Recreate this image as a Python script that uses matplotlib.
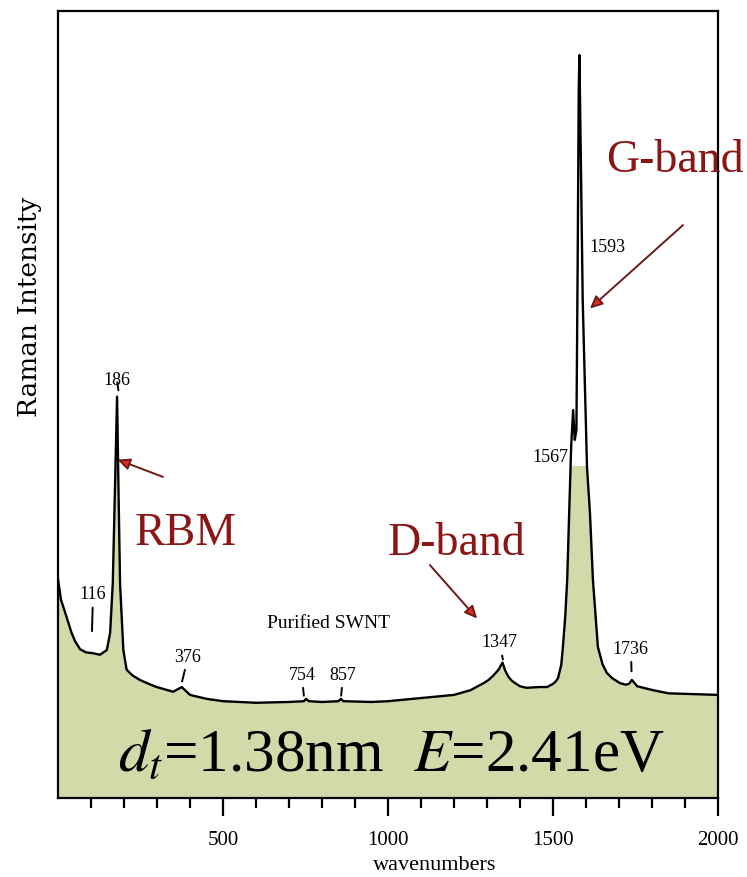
import numpy as np
import matplotlib
matplotlib.use("Agg")
import matplotlib.pyplot as plt
from matplotlib.patches import Rectangle

# Raman spectrum of purified SWNT (arb. units)
wavenumber = [0, 9, 26, 41, 52, 67, 85, 106, 127, 148, 158, 166, 173, 179, 183,
              188, 198, 208, 225, 248, 275, 299, 349, 375, 400, 450, 500, 600,
              700, 745, 752, 760, 800, 850, 857, 865, 950, 1000, 1100, 1200,
              1250, 1290, 1305, 1320, 1335, 1347, 1355, 1365, 1375, 1385, 1400,
              1420, 1460, 1482, 1500, 1508, 1515, 1525, 1530, 1537, 1543, 1549,
              1555, 1561, 1566, 1571, 1575, 1578, 1580, 1584, 1590, 1603, 1612,
              1621, 1636, 1650, 1663, 1680, 1703, 1720, 1730, 1739, 1755, 1803,
              1850, 2000]
intensity = [27.8, 25.2, 23.0, 21.0, 19.9, 18.9, 18.5, 18.4, 18.2, 18.8, 21.0,
             27.3, 40.0, 51.0, 40.0, 27.3, 18.8, 16.3, 15.6, 15.0, 14.5, 14.1,
             13.5, 14.1, 13.1, 12.6, 12.3, 12.1, 12.2, 12.3, 12.6, 12.3, 12.2,
             12.3, 12.6, 12.3, 12.2, 12.3, 12.7, 13.1, 13.7, 14.6, 15.0, 15.6,
             16.3, 17.2, 16.2, 15.4, 14.9, 14.6, 14.2, 14.0, 14.1, 14.1, 14.5,
             14.8, 15.2, 16.9, 19.2, 23.0, 27.7, 36.2, 44.6, 49.3, 45.5, 46.8,
             69.6, 90.0, 94.4, 82.3, 63.3, 42.1, 36.2, 27.7, 19.2, 17.0, 15.9,
             15.2, 14.6, 14.4, 14.5, 15.0, 14.2, 13.7, 13.3, 13.1]

# small peak labels: text, label position, end of the little tick (or None)
peak_labels = ["186", "116", "376", "754", "857", "1347", "1736", "1567", "1593"]
label_xy = [(179, 53.0), (106, 25.8), (394, 17.9), (739, 15.6), (864, 15.6),
            (1339, 19.7), (1736, 18.9), (1491, 43.3), (1664, 69.9)]
tick_end = [(183, 51.8), (103, 21.2), (376, 14.8), (745, 13.0), (858, 13.0),
            (1348, 17.6), (1738, 16.1), None, None]

# band names and their arrows (tail -> tip)
band_names = ["RBM", "D-band", "G-band"]
band_xy = [(233, 32.1), (1000, 30.9), (1660, 79.5)]
arrow_tail = [(318, 40.8), (1127, 29.6), (1894, 72.8)]
arrow_tip = [(180, 43.0), (1270, 22.8), (1612, 62.2)]

fill_cap = 42.2
fill_color = "#d4d9aa"
band_color = "#8b1616"

plt.rcParams["font.family"] = ["Liberation Serif", "DejaVu Serif"]
plt.rcParams["mathtext.fontset"] = "stix"

fig = plt.figure(figsize=(7.47, 8.77), dpi=100)
ax = fig.add_axes([58 / 747, 79 / 877, 660 / 747, 787 / 877])

poly = ax.fill_between(wavenumber, 0, intensity, color=fill_color, lw=0, zorder=1)
poly.set_clip_path(Rectangle((0, 0), 2000, fill_cap, transform=ax.transData))
ax.plot(wavenumber, intensity, color="black", lw=1.7, zorder=3,
        solid_joinstyle="round")

ax.set_xlim(0, 2000)
ax.set_ylim(0, 100)
ax.set_yticks([])
ax.set_xticks([500, 1000, 1500, 2000])
ax.set_xticks([t for t in range(100, 2000, 100) if t % 500], minor=True)
ax.tick_params(which="major", length=13, width=1.6, pad=11, labelsize=15)
ax.tick_params(which="minor", length=7, width=1.6)
for s in ax.spines.values():
    s.set_linewidth(1.6)

ax.set_xlabel("wavenumbers", fontsize=16, va="top")
ax.xaxis.set_label_coords(0.571, -0.074)
fig.text(30 / 747, 1 - 307 / 877, "Raman Intensity", rotation=90,
         ha="center", va="center", fontsize=19, family="DejaVu Serif")

for txt, (x, y), end in zip(peak_labels, label_xy, tick_end):
    if end is None:
        ax.text(x, y, txt, fontsize=13, ha="center", va="center", zorder=4)
    else:
        ax.annotate(txt, xy=end, xytext=(x, y), fontsize=13, ha="center",
                    va="center", zorder=4,
                    arrowprops=dict(arrowstyle="-", lw=1.4, color="black",
                                    shrinkA=1, shrinkB=0))

ax.text(821, 22.2, "Purified SWNT", fontsize=14, ha="center", va="center")

for name, (x, y), tail, tip in zip(band_names, band_xy, arrow_tail, arrow_tip):
    ax.text(x, y, name, fontsize=33, color=band_color, ha="left",
            va="baseline", clip_on=False, zorder=5)
    ax.annotate("", xy=tip, xytext=tail, annotation_clip=False,
                arrowprops=dict(arrowstyle="-|>,head_length=0.75,head_width=0.35",
                                ec="#6e1a1a", fc="#e02a1e", lw=1.4,
                                shrinkA=0, shrinkB=0))

ax.text(1010, 3.5, r"$d_t$=1.38nm  $E$=2.41eV", fontsize=44,
        ha="center", va="baseline", zorder=5)

fig.savefig("out.png", dpi=100)
